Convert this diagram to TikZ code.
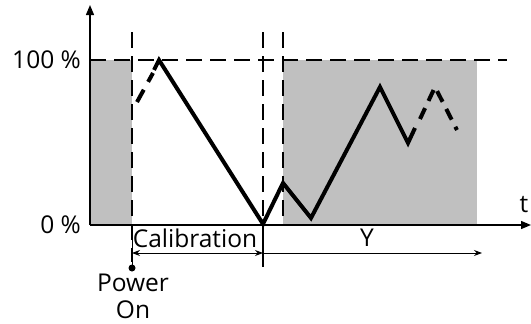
\documentclass[tikz,border=0pt]{standalone}
\usepackage{fontspec}
\setmainfont{Open Sans}
\usetikzlibrary{arrows.meta}
\definecolor{fillgray}{HTML}{C0C0C0}
\begin{document}
\begin{tikzpicture}[x=1pt,y=-1pt,
  axis/.style={line width=1.3pt,-{Triangle[length=10pt,width=8pt]}},
  guide/.style={line width=1.7pt,dash pattern=on 16pt off 8pt},
  signal/.style={line width=4pt,line join=miter},
  signaldash/.style={line width=4pt,dash pattern=on 14pt off 9pt},
  dim/.style={line width=1pt},
  lbl/.style={font=\fontsize{24.5}{27}\selectfont,inner sep=0pt},
  every node/.style={inner sep=0pt}]
\useasboundingbox (0,0) rectangle (531,324);
% shaded regions
\fill[fillgray] (90,60) rectangle (132,225);
\fill[fillgray] (283,60) rectangle (477,225);
% guide lines
\coordinate (h0) at (90,60);
\coordinate (h1) at (507,60);
\draw[guide] (h0) -- (h1);
\coordinate (v1t) at (132,32);
\coordinate (v1b) at (132,262);
\coordinate (v2t) at (263,32);
\coordinate (v2b) at (263,225);
\coordinate (v3t) at (283,32);
\coordinate (v3b) at (283,225);
\draw[guide] (v1t) -- (v1b);
\draw[guide] (v2t) -- (v2b);
\draw[guide] (v3t) -- (v3b);
% axes
\coordinate (o) at (90,225);
\coordinate (yt) at (90,5);
\coordinate (xt) at (531,225);
\draw[axis] (o) -- (yt);
\draw[axis] (o) -- (xt);
\node[lbl,anchor=east] (p100) at (81,60) {100 \%};
\node[lbl,anchor=east] (p0) at (81,225) {0 \%};
\node[lbl] (t) at (524,205) {t};
% signal
\coordinate (s0) at (137,102);
\coordinate (s1) at (153,73);
\draw[signaldash] (s0) -- (s1);
\coordinate (a) at (159,60);
\coordinate (b) at (263,224);
\coordinate (c) at (283,183);
\coordinate (d) at (311,218);
\coordinate (e) at (380,87);
\coordinate (f) at (408,143);
\coordinate (g) at (415,128);
\draw[signal] (154,70) -- (a) -- (b) -- (c) -- (d) -- (e) -- (f) -- (g);
\coordinate (h) at (435,87);
\coordinate (k) at (457,130);
\draw[signaldash,dash pattern=on 12pt off 8pt] (420,119) -- (h) -- (k);
% dimension lines
\coordinate (cal0) at (132,253);
\coordinate (cal1) at (263,253);
\coordinate (yend) at (482,253);
\draw[dim,{Stealth[length=8pt,width=6pt]}-{Stealth[length=8pt,width=6pt]}] (cal0) -- (cal1);
\draw[dim,-{Stealth[length=8pt,width=6pt]}] (cal1) -- (yend);
\coordinate (tk0) at (263,225);
\coordinate (tk1) at (263,267);
\draw[line width=1.4pt] (tk0) -- (tk1);
\coordinate (pw) at (132,268);
\draw[line width=1pt] (132,225) -- (pw);
\fill (pw) circle (3.5pt);
\node[lbl] (calib) at (195,238) {Calibration};
\node[lbl] (ylbl) at (367,238) {Y};
\node[lbl,align=center] (pon) at (133,296) {Power\\On};
\end{tikzpicture}
\end{document}
